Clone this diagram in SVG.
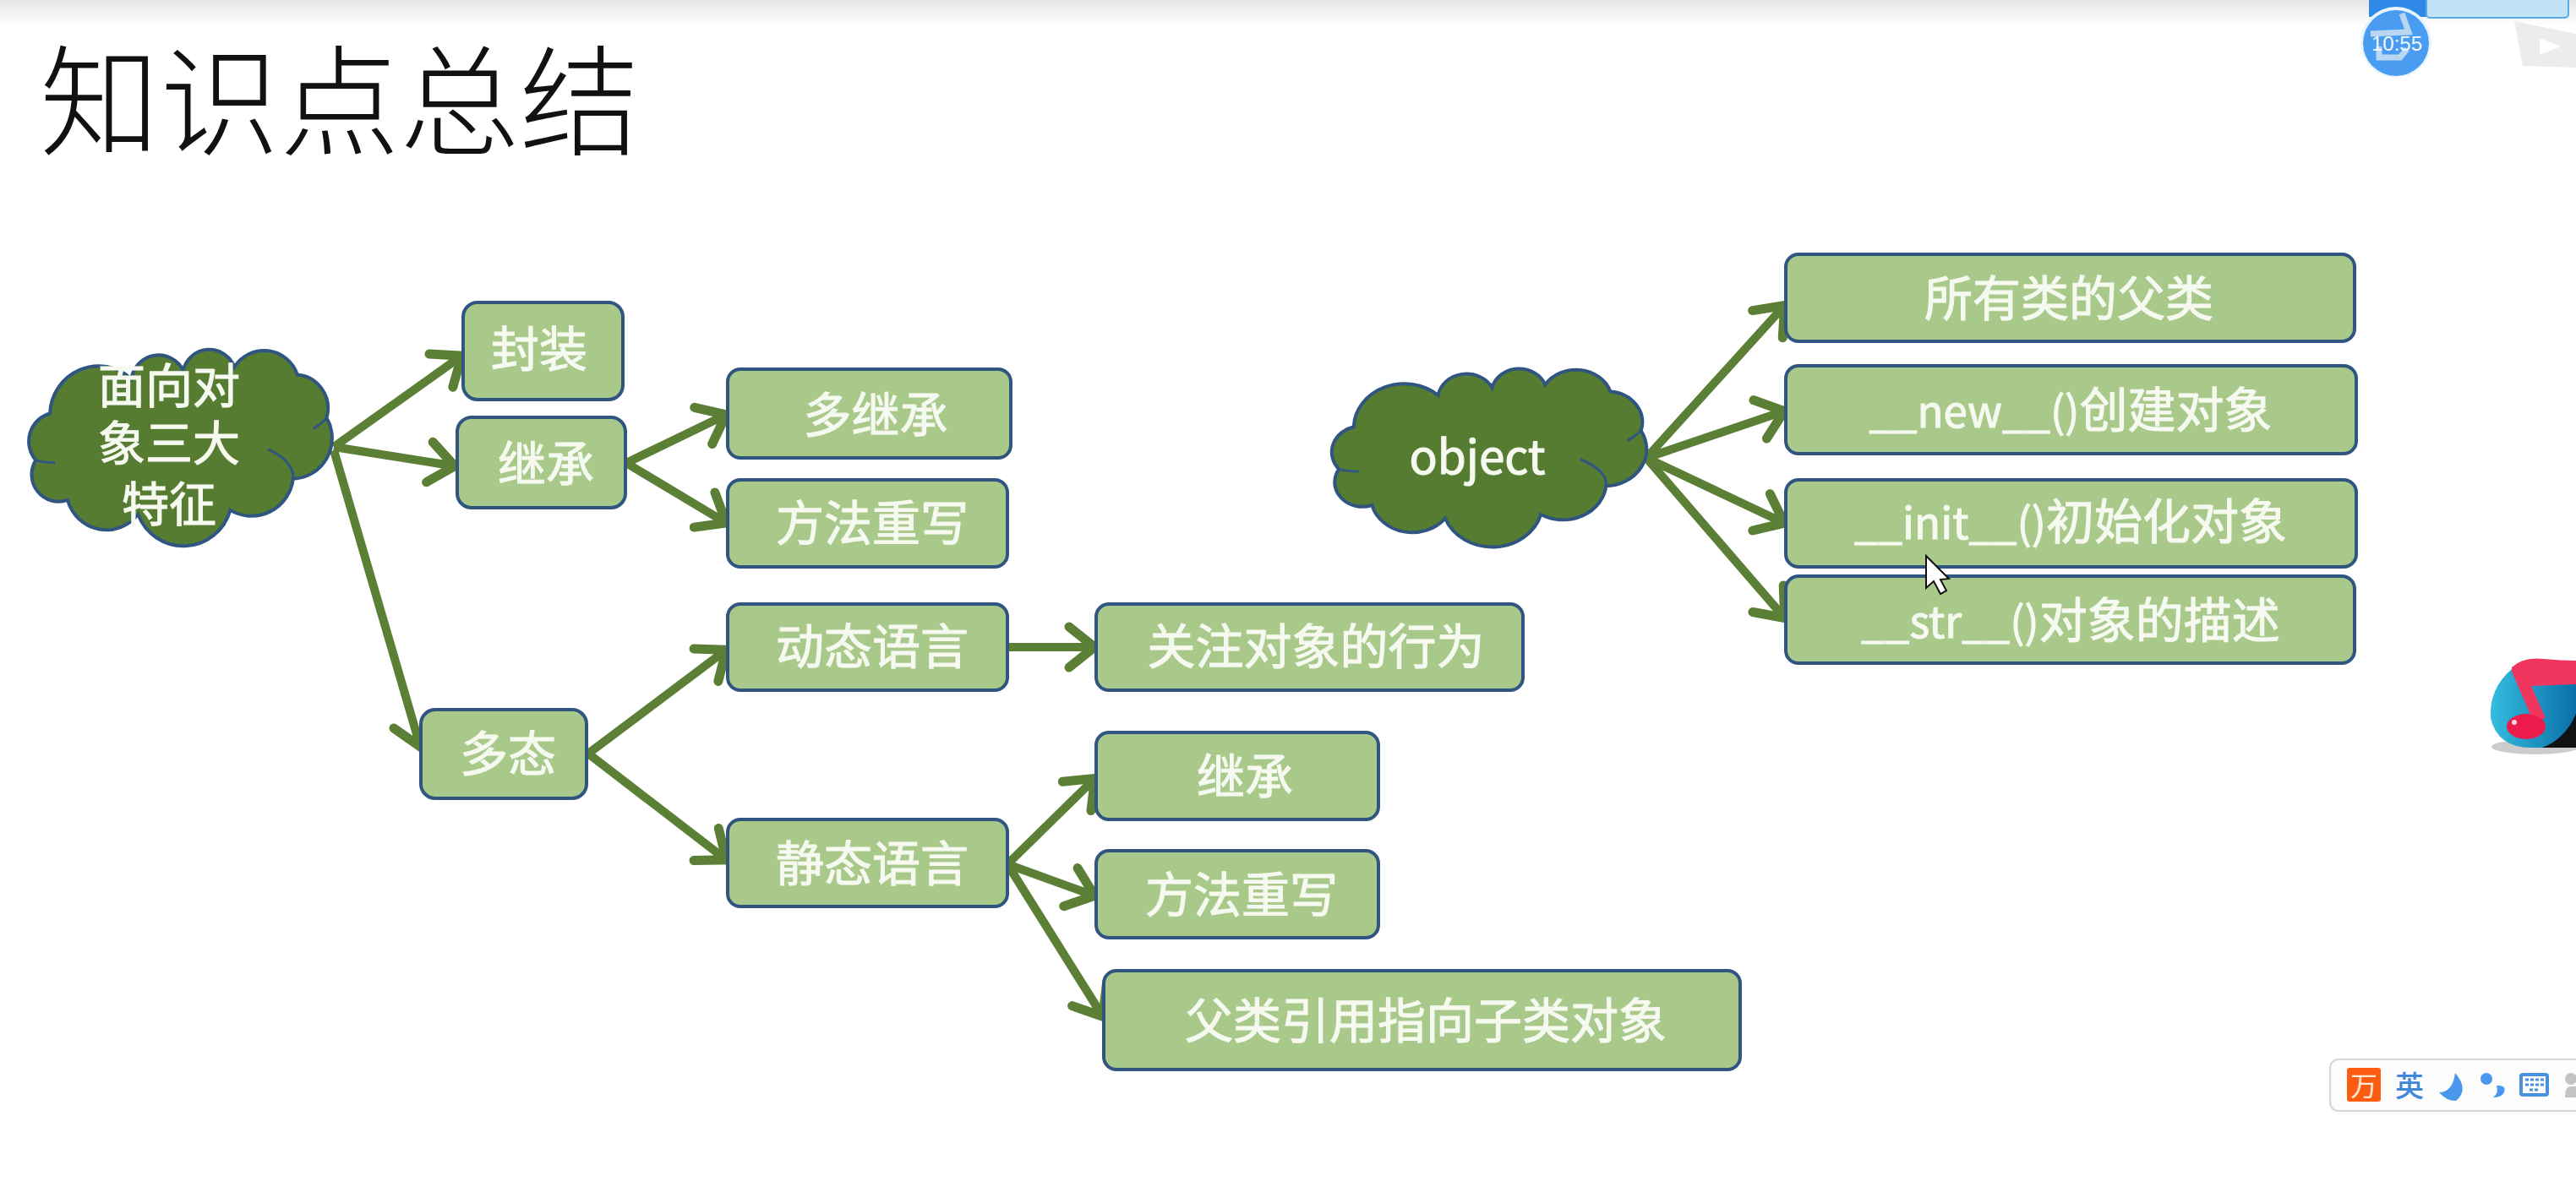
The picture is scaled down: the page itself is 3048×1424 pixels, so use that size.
<svg xmlns="http://www.w3.org/2000/svg" xmlns:xlink="http://www.w3.org/1999/xlink" width="3048" height="1424" viewBox="0 0 3048 1424">
<style>
text{font-family:"Noto Sans CJK SC","Liberation Sans",sans-serif}
.box{fill:#a8c98a;stroke:#2f5580;stroke-width:4}
.cloud{fill:#567c32;stroke:#2f5580;stroke-width:4;vector-effect:non-scaling-stroke}
.inner{fill:none;stroke:#2f5580;stroke-width:3;vector-effect:non-scaling-stroke}
.t{fill:#f6f9f0;font-size:57px;text-anchor:middle;font-weight:400;stroke:#f6f9f0;stroke-width:1.1}
.l{font-size:51px}
.c line{stroke:#5a7f35;stroke-width:10;marker-end:url(#arrow)}
</style>
<defs>
<linearGradient id="top" x1="0" y1="0" x2="0" y2="1"><stop offset="0" stop-color="#e6e6e6"/><stop offset="1" stop-color="#ffffff"/></linearGradient>
<linearGradient id="drop" x1="0" y1="0" x2="1" y2="0"><stop offset="0" stop-color="#35bde0"/><stop offset="1" stop-color="#0a6fa8"/></linearGradient>
<marker id="arrow" markerUnits="userSpaceOnUse" markerWidth="60" markerHeight="60" refX="50" refY="30" viewBox="0 0 60 60" orient="auto" overflow="visible"><path d="M18,6 L48,30 L18,54" fill="none" stroke="#5a7f35" stroke-width="11" stroke-linecap="round" stroke-linejoin="miter"/></marker>
<g id="cloudshape">
<path class="cloud" d="M1608,508 A58,58 0 0 1 1705,467 A33,33 0 0 1 1767,457 A32,32 0 0 1 1828,453 A42,42 0 0 1 1903,462 A40,40 0 0 1 1938,513 A48,48 0 0 1 1898,585 A50,50 0 0 1 1823,622 A58,58 0 0 1 1713,627 A48,48 0 0 1 1629,610 A32,32 0 0 1 1591,563 A34,34 0 0 1 1608,508 Z"/>
<path class="inner" d="M1591,563 Q1600,566 1614,566 M1868,550 Q1900,565 1898,585 M1938,513 Q1932,520 1922,526"/>
</g>
</defs>
<rect width="3048" height="1424" fill="#ffffff"/>
<rect width="3048" height="30" fill="url(#top)"/>
<text x="47" y="173" font-size="142" fill="#111111" style="font-weight:300">知识点总结</text>

<g class="c" id="connectors">
<line x1="395" y1="529" x2="548" y2="420"/>
<line x1="395" y1="529" x2="540" y2="552"/>
<line x1="395" y1="533" x2="498" y2="886"/>
<line x1="741" y1="548" x2="861" y2="490"/>
<line x1="741" y1="548" x2="861" y2="620"/>
<line x1="696" y1="892" x2="861" y2="768"/>
<line x1="696" y1="892" x2="861" y2="1019"/>
<line x1="1192" y1="766" x2="1297" y2="766"/>
<line x1="1192" y1="1023" x2="1297" y2="920"/>
<line x1="1192" y1="1023" x2="1297" y2="1061"/>
<line x1="1192" y1="1023" x2="1306" y2="1205"/>
<line x1="1948" y1="542" x2="2113" y2="360"/>
<line x1="1948" y1="542" x2="2113" y2="486"/>
<line x1="1948" y1="542" x2="2113" y2="620"/>
<line x1="1948" y1="542" x2="2113" y2="733"/>
</g>

<g id="n-oop"><use xlink:href="#cloudshape" href="#cloudshape" transform="matrix(.992 0 0 1.003 -1536 -20)"/>
<text class="t" style="font-size:56px"><tspan x="200" y="477">面向对</tspan><tspan x="200" y="545">象三大</tspan><tspan x="200" y="617">特征</tspan></text></g>
<g id="n-object"><use xlink:href="#cloudshape" href="#cloudshape" transform="matrix(1.03 0 0 .91 -54.5 43)"/><text class="t" x="1748" y="561" style="font-size:55px">object</text></g>

<g id="n-fz"><rect class="box" x="548" y="358" width="189" height="115" rx="17"/><text class="t" x="638" y="434">封装</text></g>
<g id="n-jc"><rect class="box" x="541" y="494" width="199" height="107" rx="17"/><text class="t" x="646" y="570">继承</text></g>
<g id="n-djc"><rect class="box" x="861" y="437" width="335" height="105" rx="15"/><text class="t" x="1036" y="512">多继承</text></g>
<g id="n-ff"><rect class="box" x="861" y="568" width="331" height="103" rx="15"/><text class="t" x="1032" y="640">方法重写</text></g>
<g id="n-dt"><rect class="box" x="861" y="715" width="331" height="102" rx="15"/><text class="t" x="1032" y="786">动态语言</text></g>
<g id="n-gz"><rect class="box" x="1297" y="715" width="505" height="102" rx="15"/><text class="t" x="1557" y="786">关注对象的行为</text></g>
<g id="n-dtai"><rect class="box" x="498" y="840" width="196" height="105" rx="17"/><text class="t" x="601" y="913">多态</text></g>
<g id="n-jt"><rect class="box" x="861" y="970" width="331" height="103" rx="15"/><text class="t" x="1032" y="1043">静态语言</text></g>
<g id="n-jc2"><rect class="box" x="1297" y="867" width="334" height="103" rx="15"/><text class="t" x="1473" y="940">继承</text></g>
<g id="n-ff2"><rect class="box" x="1297" y="1007" width="334" height="103" rx="15"/><text class="t" x="1469" y="1080">方法重写</text></g>
<g id="n-fl"><rect class="box" x="1306" y="1149" width="753" height="117" rx="15"/><text class="t" x="1687" y="1229">父类引用指向子类对象</text></g>
<g id="n-all"><rect class="box" x="2113" y="301" width="673" height="103" rx="15"/><text class="t" x="2448" y="374">所有类的父类</text></g>
<g id="n-new"><rect class="box" x="2113" y="433" width="675" height="104" rx="15"/><text class="t" x="2450" y="506"><tspan class="l">__new__()</tspan>创建对象</text></g>
<g id="n-init"><rect class="box" x="2113" y="568" width="675" height="103" rx="15"/><text class="t" x="2450" y="638"><tspan class="l">__init__()</tspan>初始化对象</text></g>
<g id="n-str"><rect class="box" x="2113" y="682" width="673" height="103" rx="15"/><text class="t" x="2450" y="755"><tspan class="l">__str__()</tspan>对象的描述</text></g>

<path d="M2279,658 L2279,696 L2288,688 L2296,703 L2303,699 L2296,686 L2306,685 Z" fill="#ffffff" stroke="#111111" stroke-width="2"/>

<g id="overlay-top">
<path d="M2975,25 L3048,40 L3048,80 L2985,78 Z M3005,45 L3005,65 L3030,55 Z" fill="#ececec" fill-rule="evenodd"/>
<rect x="2803" y="0" width="68" height="20" fill="#2e8ae6"/>
<rect x="2871" y="-4" width="168" height="25" rx="4" fill="#c2e2f6" stroke="#5aaae8" stroke-width="2"/>
<circle cx="2835" cy="50" r="42" fill="#e8f5fd"/>
<circle cx="2835" cy="51" r="39" fill="#4a9cf0"/>
<path d="M2805,40 L2850,38 L2842,16 M2815,55 L2815,68 L2840,68 L2848,58" fill="none" stroke="#b9d6f2" stroke-width="7"/>
<text x="2806" y="60" font-size="24" fill="#f2f8ff" style="font-family:'Liberation Sans',sans-serif">10:55</text>
</g>
<g id="overlay-music">
<ellipse cx="3000" cy="884" rx="52" ry="9" fill="#999999" opacity=".5"/>
<path d="M2972,792 Q2945,815 2947,850 Q2955,885 2995,885 L3048,885 L3048,790 Z" fill="url(#drop)"/>
<path d="M3008,885 Q3035,875 3048,845 L3048,885 Z" fill="#111111"/>
<path d="M2972,790 Q2985,777 3010,780 Q3030,782 3048,782 L3048,810 L2995,812 L3012,850 L2998,855 L2972,795 Z" fill="#f0355e"/>
<ellipse cx="2989" cy="860" rx="23" ry="15" fill="#ec1b4b"/>
<circle cx="2975" cy="855" r="3" fill="#ffd7e0"/>
</g>
<g id="overlay-ime">
<rect x="2757" y="1254" width="310" height="61" rx="10" fill="#fcfcfc" stroke="#d6d6d6" stroke-width="2"/>
<rect x="2777" y="1264" width="40" height="40" rx="3" fill="#fb5c12"/>
<text x="2797" y="1297" font-size="32" fill="#ffe8d8" text-anchor="middle">万</text>
<text x="2851" y="1298" font-size="34" fill="#3f88da" text-anchor="middle" font-weight="500">英</text>
<path d="M2905,1270 Q2922,1290 2906,1303 Q2894,1303 2886,1293 Q2902,1293 2905,1270 Z" fill="#4a98ee"/>
<circle cx="2942" cy="1277" r="7" fill="#4a98ee"/>
<path d="M2954,1285 Q2966,1284 2963,1293 Q2960,1299 2950,1299 Q2957,1294 2954,1285 Z" fill="#4a98ee"/>
<rect x="2983" y="1272" width="31" height="24" rx="2" fill="none" stroke="#4a90dd" stroke-width="4"/>
<path d="M2988,1278 H3010 M2988,1284 H3010 M2993,1290 H3005" stroke="#4a90dd" stroke-width="3" stroke-dasharray="4 2" fill="none"/>
<circle cx="3042" cy="1277" r="7" fill="#c4c4c4"/>
<path d="M3035,1299 Q3035,1286 3042,1286 L3048,1286 L3048,1299 Z" fill="#c4c4c4"/>
</g>
</svg>
